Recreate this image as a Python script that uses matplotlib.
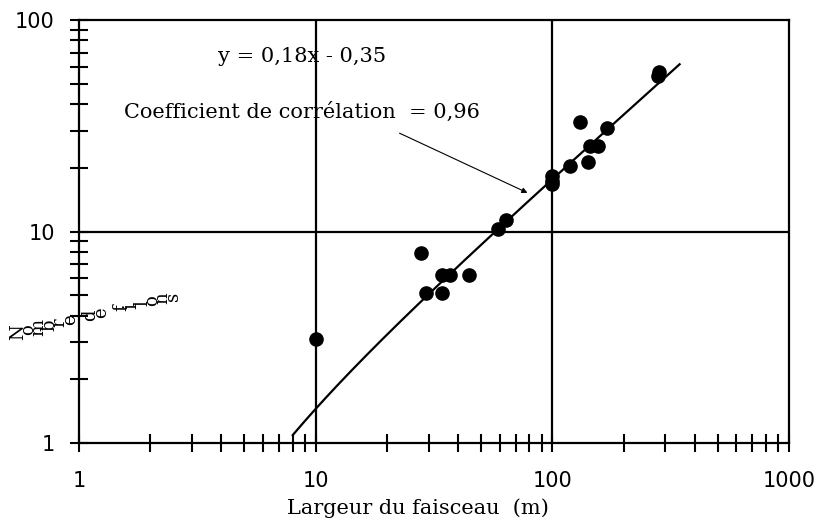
import numpy as np
import matplotlib
matplotlib.use("Agg")
import matplotlib.pyplot as plt
from matplotlib.ticker import LogLocator, NullFormatter, FixedLocator, FixedFormatter

# ---- data ----
largeur = [10, 27.8, 29.2, 34.1, 34.3, 36.9, 44.4, 58.9, 63.7, 100, 100, 100,
           118.6, 130.8, 141, 144, 156, 171, 280, 282]
nombre = [3.1, 7.9, 5.1, 6.2, 5.1, 6.2, 6.2, 10.3, 11.3, 18.3, 17.3, 16.8,
          20.4, 33.0, 21.2, 25.5, 25.5, 31.0, 54.5, 57.0]
fit_slope = 0.18
fit_intercept = -0.35
fit_xmin, fit_xmax = 8.0, 345.0
x_ticks = [1, 10, 100, 1000]
x_ticklabels = ["1", "10", "100", "1000"]
y_ticks = [1, 10, 100]
y_ticklabels = ["1", "10", "100"]
eq_text = "y = 0,18x - 0,35"
corr_text = "Coefficient de corrélation  = 0,96"
xlabel = "Largeur du faisceau  (m)"
ylabel = "Nombre de filons"

serif = ["DejaVu Serif"]
sans = ["DejaVu Sans"]

W, H = 819, 522
fig = plt.figure(figsize=(W / 100, H / 100), dpi=100)
ax = fig.add_axes([79 / W, 1 - 443 / H, (789 - 79) / W, (443 - 20) / H])
ax.set_xscale("log")
ax.set_yscale("log")
ax.set_xlim(1, 1000)
ax.set_ylim(1, 100)

for s in ax.spines.values():
    s.set_linewidth(1.6)
    s.set_color("black")

# grid at decades
for v in x_ticks[1:-1]:
    ax.axvline(v, color="black", lw=1.6, zorder=1)
for v in y_ticks[1:-1]:
    ax.axhline(v, color="black", lw=1.6, zorder=1)

ax.xaxis.set_major_locator(FixedLocator(x_ticks))
ax.xaxis.set_major_formatter(FixedFormatter(x_ticklabels))
ax.yaxis.set_major_locator(FixedLocator(y_ticks))
ax.yaxis.set_major_formatter(FixedFormatter(y_ticklabels))
ax.xaxis.set_minor_locator(LogLocator(base=10, subs=np.arange(2, 10)))
ax.yaxis.set_minor_locator(LogLocator(base=10, subs=np.arange(2, 10)))
ax.xaxis.set_minor_formatter(NullFormatter())
ax.yaxis.set_minor_formatter(NullFormatter())

ax.tick_params(which="both", direction="inout", length=13, width=1.5, color="black")
ax.tick_params(axis="x", which="major", pad=14, labelsize=15)
ax.tick_params(axis="y", which="major", pad=11, labelsize=15)
for lab in ax.get_xticklabels() + ax.get_yticklabels():
    lab.set_family(sans)

# points
ax.plot(largeur, nombre, "o", color="black", ms=9.5, zorder=3)

# fit line
xf = np.logspace(np.log10(fit_xmin), np.log10(fit_xmax), 200)
ax.plot(xf, fit_slope * xf + fit_intercept, color="black", lw=1.6, zorder=2)

# annotations
fig.text(302 / W, 1 - 57 / H, eq_text, family=serif, fontsize=15,
         ha="center", va="center")
fig.text(124 / W, 1 - 112 / H, corr_text, family=serif, fontsize=15,
         ha="left", va="center")
ax.annotate("", xy=(530 / W, 1 - 194 / H), xycoords="figure fraction",
            xytext=(397 / W, 1 - 132 / H), textcoords="figure fraction",
            arrowprops=dict(arrowstyle="-|>", color="black", lw=0.8,
                            mutation_scale=8))

# x label
fig.text(418 / W, 1 - 508 / H, xlabel, family=serif, fontsize=15,
         ha="center", va="center")

# y label drawn as in the reference: each glyph rotated, along a slanted line
x0, y0 = 18, 332
x1, y1 = 173, 296
n = len(ylabel)
for i, ch in enumerate(ylabel):
    t = i / (n - 1)
    px = x0 + t * (x1 - x0)
    py = y0 + t * (y1 - y0)
    fig.text(px / W, 1 - py / H, ch, family=serif, fontsize=13,
             rotation=90, ha="center", va="center")

fig.savefig("out.png", dpi=100)
